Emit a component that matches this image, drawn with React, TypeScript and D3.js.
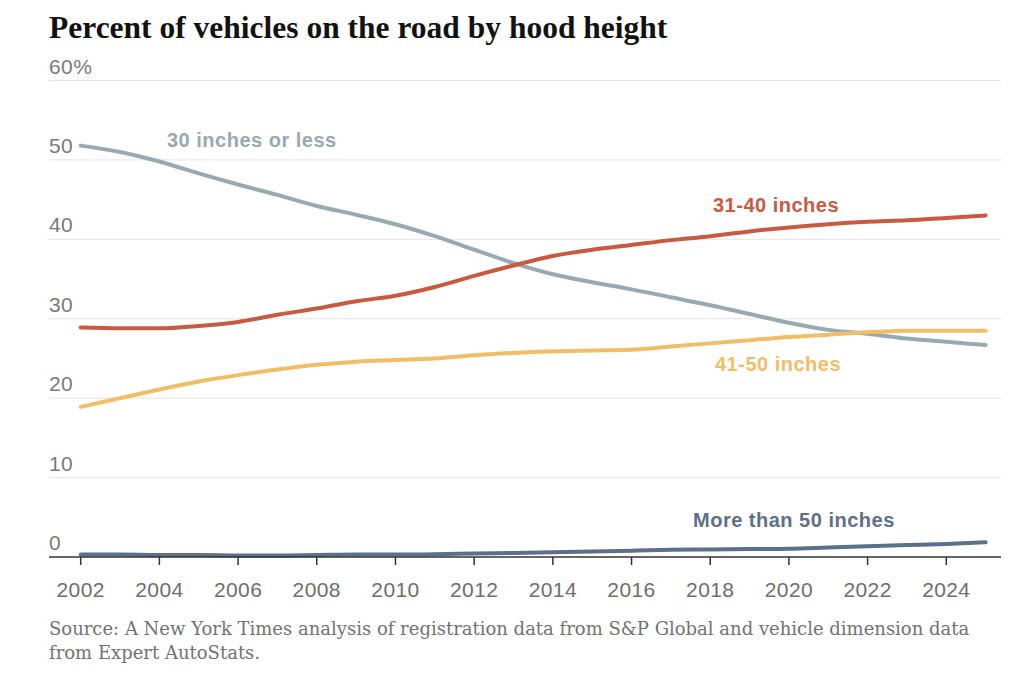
import * as d3 from 'd3'

const years = [2002, 2003, 2004, 2005, 2006, 2007, 2008, 2009, 2010, 2011, 2012, 2013, 2014, 2015, 2016, 2017, 2018, 2019, 2020, 2021, 2022, 2023, 2024, 2025]

const under30 = [51.8, 51.0, 49.8, 48.3, 46.9, 45.6, 44.2, 43.1, 41.9, 40.4, 38.7, 37.0, 35.6, 34.6, 33.7, 32.7, 31.7, 30.6, 29.5, 28.6, 28.1, 27.5, 27.1, 26.7]
const from31to40 = [28.9, 28.8, 28.8, 29.1, 29.6, 30.5, 31.3, 32.2, 32.9, 34.0, 35.4, 36.7, 37.9, 38.7, 39.3, 39.9, 40.4, 41.0, 41.5, 41.9, 42.2, 42.4, 42.7, 43.0]
const from41to50 = [18.9, 20.0, 21.1, 22.1, 22.9, 23.6, 24.2, 24.6, 24.8, 25.0, 25.4, 25.7, 25.9, 26.0, 26.1, 26.5, 26.9, 27.3, 27.7, 28.0, 28.3, 28.5, 28.5, 28.5]
const over50 = [0.3, 0.3, 0.25, 0.25, 0.2, 0.2, 0.25, 0.3, 0.3, 0.35, 0.45, 0.5, 0.6, 0.7, 0.8, 0.9, 0.95, 1.0, 1.05, 1.2, 1.35, 1.5, 1.65, 1.85]

const yTicks = [0, 10, 20, 30, 40, 50, 60]
const xTicks = [2002, 2004, 2006, 2008, 2010, 2012, 2014, 2016, 2018, 2020, 2022, 2024]

const series = [
  { name: '30 inches or less', values: under30, color: '#97aab3', label: [167, 147] },
  { name: '31-40 inches', values: from31to40, color: '#c95a3f', label: [713, 212] },
  { name: '41-50 inches', values: from41to50, color: '#f1be66', label: [715, 371] },
  { name: 'More than 50 inches', values: over50, color: '#5b7089', label: [693, 527] },
]

const W = 1024
const H = 700
const left = 49
const right = 1001

const x = d3.scaleLinear().domain([2002, 2024]).range([80.7, 946.3])
const y = d3.scaleLinear().domain([0, 60]).range([557, 80.5])

const sans = '"Liberation Sans", Arial, sans-serif'

export default function App() {
  const line = d3.line<number>()
    .x((_, i) => x(years[i]))
    .y(d => y(d))
    .curve(d3.curveMonotoneX)

  return (
    <div style={{ position: 'absolute', top: 0, left: 0 }}>
      <svg width={W} height={H} style={{ display: 'block', background: '#fff' }}>
        <text x={left} y={38} fontFamily='"Liberation Serif", serif' fontWeight="bold" fontSize={31.5} fill="#121212">
          Percent of vehicles on the road by hood height
        </text>

        {/* gridlines and y labels */}
        {yTicks.map(t => (
          <g key={t}>
            {t > 0 && <line x1={left} x2={right} y1={y(t)} y2={y(t)} stroke="#e4e4e4" strokeWidth={1} />}
            <text x={left} y={y(t) - 7} fontFamily={sans} fontSize={21} letterSpacing={0.4} fill="#7a7a7a">
              {t === 60 ? '60%' : t}
            </text>
          </g>
        ))}

        {/* series lines */}
        {series.map(s => (
          <path key={s.name} d={line(s.values) || ''} fill="none" stroke={s.color} strokeWidth={4} strokeLinecap="round" />
        ))}

        {/* x axis */}
        <line x1={left} x2={right} y1={y(0)} y2={y(0)} stroke="#333" strokeWidth={1.5} />
        {xTicks.map(t => (
          <g key={t}>
            <line x1={x(t)} x2={x(t)} y1={y(0)} y2={y(0) + 8} stroke="#333" strokeWidth={1.5} />
            <text x={x(t)} y={597} textAnchor="middle" fontFamily={sans} fontSize={21} letterSpacing={0.4} fill="#6e6e6e">
              {t}
            </text>
          </g>
        ))}

        {/* direct labels */}
        {series.map(s => (
          <text key={s.name + '-label'} x={s.label[0]} y={s.label[1]} fontFamily={sans} fontWeight="bold" fontSize={20} letterSpacing={0.5} fill={s.color}>
            {s.name}
          </text>
        ))}

        <text fontFamily='"DejaVu Serif", serif' fontSize={18} fill="#727272">
          <tspan x={left} y={635}>Source: A New York Times analysis of registration data from S&amp;P Global and vehicle dimension data</tspan>
          <tspan x={left} y={659}>from Expert AutoStats.</tspan>
        </text>
      </svg>
    </div>
  )
}
